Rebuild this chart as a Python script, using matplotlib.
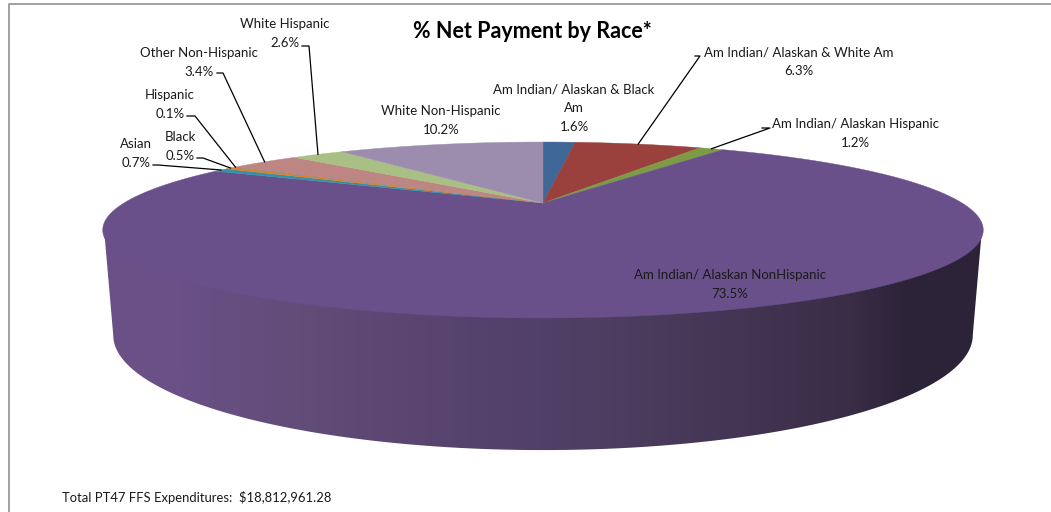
import numpy as np
import matplotlib
matplotlib.use("Agg")
from matplotlib import pyplot as plt
from matplotlib.colors import LinearSegmentedColormap
from matplotlib.patches import Polygon

plt.rcParams['font.family'] = ['Lato', 'DejaVu Sans']

# % net payment per race group, clockwise from 12 o'clock
labels = ["Am Indian/ Alaskan & Black\nAm", "Am Indian/ Alaskan & White Am", "Am Indian/ Alaskan Hispanic",
          "Am Indian/ Alaskan NonHispanic", "Asian", "Black", "Hispanic",
          "Other Non-Hispanic", "White Hispanic", "White Non-Hispanic"]
values = [1.6, 6.3, 1.2, 73.5, 0.7, 0.5, 0.1, 3.4, 2.6, 10.2]
colors = ["#3F6797", "#9A403D", "#7D9A45", "#69508A", "#388FA8", "#D9822E",
          "#7F8FB0", "#BD8683", "#AABF84", "#9C8DAE"]
# label centre in pixels, None = no leader line, else the elbow start
label_pos = [(574, 108), (799, 61.5), (855, 133.5), (730, 284.5), (136, 153.5),
             (180, 146.5), (170, 104.5), (199, 62.5), (285, 33.5), (441, 120.5)]
elbows = [None, [(695, 56), (700, 56)], [(762, 128), (770, 128)], None, [(153, 165), (158, 165)],
          [(197, 158), (203, 158)], [(187, 116), (195, 116)], [(217, 73), (223, 73)], [(302, 46), (309, 46)], None]

cx, apex_y = 543.0, 203.0
persp = 0.307


def top_rim(t):
    # tilted disc with perspective, back half looks squashed
    d = 1 + persp * np.cos(t)
    return cx + 419 * np.sin(t) / d, apex_y - 79.7 * np.cos(t) / d


def bottom_rim(t):
    d = 1 + persp * np.cos(t)
    return cx + 409 * np.sin(t) / d, 300 - 104 * np.cos(t) / d


fig = plt.figure(figsize=(10.51, 5.12), dpi=100)
ax = fig.add_axes([0, 0, 1, 1])
ax.set_xlim(0, 1051)
ax.set_ylim(512, 0)
ax.axis("off")

# outer chart frame
ax.plot([9, 9, 1051], [512, 4, 4], color="#a0a0a0", lw=1.4)

# side wall, only the front part of the rim is visible
# its upper edge runs a little under the top face so no white seam shows
t_r = np.arccos(-persp)
t_front = np.linspace(t_r, 2 * np.pi - t_r, 300)
tx, ty = top_rim(t_front)
bx, by = bottom_rim(t_front)
tx = cx + (tx - cx) * 0.997
ty = apex_y + (ty - apex_y) * 0.97
wall_pts = np.column_stack([np.r_[tx, bx[::-1]], np.r_[ty, by[::-1]]])
wall = Polygon(wall_pts, closed=True, transform=ax.transData, fc="none", ec="none")
ax.add_patch(wall)
wall_cmap = LinearSegmentedColormap.from_list("wall", [(0, "#6A5086"), (0.0875, "#6A5086"), (0.224, "#624C78"),
                                                      (0.43, "#55426C"), (0.565, "#4E3E62"), (0.735, "#433452"),
                                                      (0.85, "#3A2D46"), (0.917, "#2C2338"), (1, "#2C2338")])
grad = np.linspace(0, 1, 512).reshape(1, -1)
im = ax.imshow(grad, extent=(103, 983, 460, 220), cmap=wall_cmap, aspect="auto", zorder=2)
im.set_clip_path(wall)
ax.set_xlim(0, 1051)
ax.set_ylim(512, 0)

# top face slices
edges = np.r_[0, np.cumsum(values)] / np.sum(values) * 2 * np.pi
for i, v in enumerate(values):
    t = np.linspace(edges[i], edges[i + 1], max(int(v * 8), 4))
    x, y = top_rim(t)
    ax.fill(np.r_[cx, x], np.r_[apex_y, y], color=colors[i], lw=0.3, zorder=3)

# data labels and leader lines
for i, v in enumerate(values):
    ax.text(label_pos[i][0], label_pos[i][1], "%s\n%.1f%%" % (labels[i], v), ha="center", va="center",
            fontsize=9.5, color="#1a1a1a", linespacing=1.66, zorder=5)
    if elbows[i] is not None:
        mx, my = top_rim((edges[i] + edges[i + 1]) / 2)
        pts = elbows[i] + [(mx, my)]
        ax.plot([p[0] for p in pts], [p[1] for p in pts], color="black", lw=0.9, zorder=4)

ax.text(532, 31, "% Net Payment by Race*", ha="center", va="center", fontsize=15.5, fontweight="bold", color="black")
ax.text(62, 498, "Total PT47 FFS Expenditures:  $18,812,961.28", ha="left", va="center", fontsize=9.4, color="#1a1a1a")

fig.savefig("out.png", dpi=100)
